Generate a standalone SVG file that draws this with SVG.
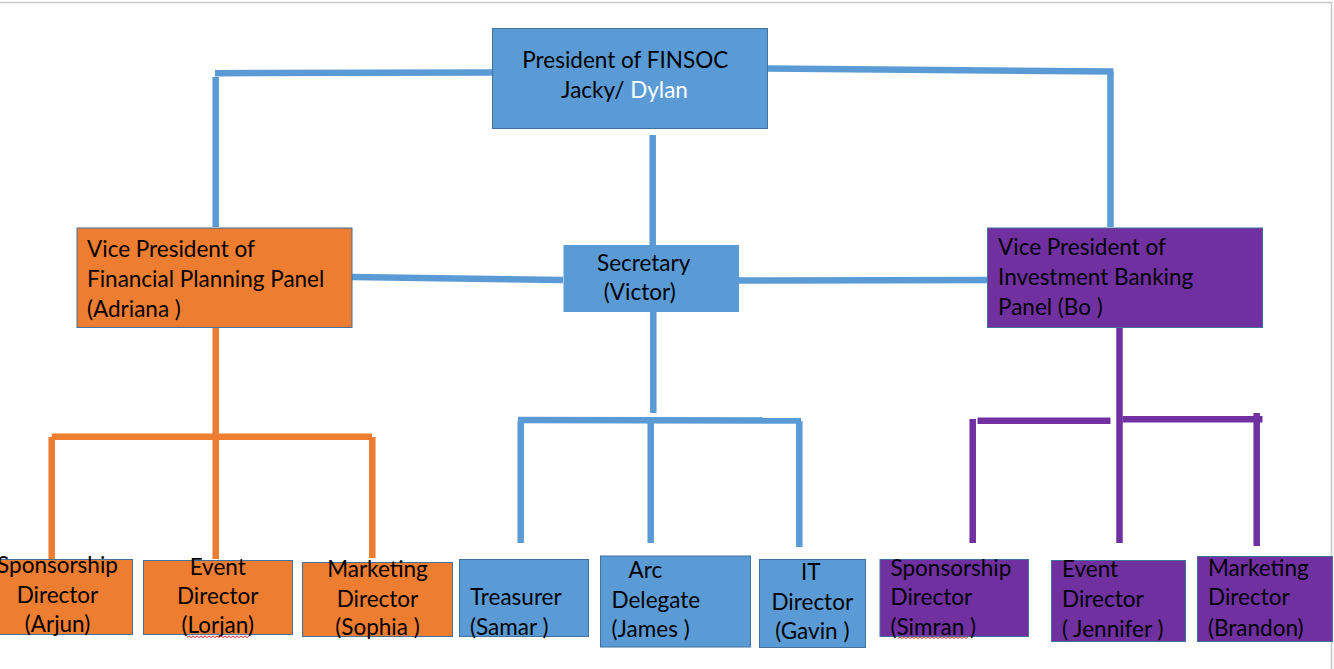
<svg xmlns="http://www.w3.org/2000/svg" width="1334" height="669" viewBox="0 0 1334 669">
<style>
text{font-family:Lato,"Liberation Sans",sans-serif;font-size:22.5px;fill:#000}
.c{text-anchor:middle}
.blue{fill:#5B9BD5;stroke:#41719C;stroke-width:1}
.org{fill:#ED7D31;stroke:#41719C;stroke-width:1}
.pur{fill:#7030A0;stroke:#41719C;stroke-width:1}
.lb{stroke:#5B9BD5;stroke-width:6.5;fill:none}
.lo{stroke:#ED7D31;stroke-width:6.5;fill:none}
.lp{stroke:#7030A0;stroke-width:6.5;fill:none}
.sq{stroke:#E03030;stroke-width:1;fill:none}
</style>
<rect width="1334" height="669" fill="#fff"/>
<path d="M0 2.5H1331.5V669" stroke="#C8C8C8" stroke-width="1.5" fill="none"/>
<g id="connectors">
<path class="lb" d="M492 72.5L215 73.2"/>
<path class="lb" d="M215.7 77V227"/>
<path class="lb" d="M768 68.5L1113.5 71.5"/>
<path class="lb" d="M1110.5 72V227"/>
<path class="lb" d="M652.7 135V245"/>
<path class="lb" d="M352 277L563 280"/>
<path class="lb" d="M739 280.5L1001.5 280"/>
<path class="lb" d="M653.3 312V413"/>
<path class="lb" d="M518 420L801 420.5"/>
<path class="lb" d="M520.7 421V543"/>
<path class="lb" d="M650.7 421V543"/>
<path class="lb" d="M799.3 421V547"/>
<path class="lo" d="M215.7 327V559"/>
<path class="lo" d="M51.7 436.7H372"/>
<path class="lo" d="M51.7 437V559"/>
<path class="lo" d="M372.3 437V558"/>
<path class="lp" d="M1119.5 327V543"/>
<path class="lp" d="M977.5 420.7H1110.5"/>
<path class="lp" d="M1122.5 419.3H1262.5"/>
<path class="lp" d="M972.7 419V543"/>
<path class="lp" d="M1256.7 413V546"/>
</g>
<g id="president">
<rect class="blue" x="492.5" y="28.5" width="275" height="100"/>
<text class="c" x="625.3" y="68">President of FINSOC</text>
<text class="c" x="624.5" y="98">Jacky/ <tspan fill="#fff">Dylan</tspan></text>
</g>
<g id="vp-fp">
<rect class="org" x="77" y="228" width="275" height="99.5"/>
<text x="87" y="257">Vice President of</text>
<text x="87" y="287">Financial Planning Panel</text>
<text x="87" y="317">(Adriana )</text>
</g>
<g id="secretary">
<rect x="563.5" y="245" width="175.5" height="67" fill="#5B9BD5"/>
<text class="c" x="643.7" y="270.5">Secretary</text>
<text class="c" x="639.7" y="300">(Victor)</text>
</g>
<g id="vp-ib">
<rect class="pur" x="987.5" y="228" width="275" height="99.5"/>
<text x="998" y="255">Vice President of</text>
<text x="998" y="285">Investment Banking</text>
<text x="998" y="315">Panel (Bo )</text>
</g>
<g id="fp-sponsorship">
<rect class="org" x="-18" y="559.5" width="150.5" height="75"/>
<text class="c" x="57.5" y="573">Sponsorship</text>
<text class="c" x="57.5" y="603">Director</text>
<text class="c" x="57.5" y="632">(Arjun)</text>
</g>
<g id="fp-event">
<rect class="org" x="143.5" y="560.5" width="149" height="74"/>
<text class="c" x="217.7" y="575">Event</text>
<text class="c" x="217.7" y="604">Director</text>
<text class="c" x="217.7" y="633">(Lorjan)</text>
<path class="sq" d="M187 637.5l2 -1.5l2 1.5l2 -1.5l2 1.5l2 -1.5l2 1.5l2 -1.5l2 1.5l2 -1.5l2 1.5l2 -1.5l2 1.5l2 -1.5l2 1.5l2 -1.5l2 1.5l2 -1.5l2 1.5l2 -1.5l2 1.5l2 -1.5l2 1.5l2 -1.5l2 1.5l2 -1.5l2 1.5l2 -1.5l2 1.5l2 -1.5l2 1.5l2 -1.5"/>
</g>
<g id="fp-marketing">
<rect class="org" x="302.5" y="562.5" width="150" height="74"/>
<text class="c" x="377.5" y="577">Marketing</text>
<text class="c" x="377.5" y="607">Director</text>
<text class="c" x="377.5" y="635">(Sophia )</text>
</g>
<g id="treasurer">
<rect class="blue" x="459.5" y="559.5" width="129" height="77"/>
<text x="470" y="605">Treasurer</text>
<text x="470" y="635">(Samar )</text>
</g>
<g id="arc-delegate">
<rect class="blue" x="600.5" y="556" width="150" height="91"/>
<text x="628.5" y="578">Arc</text>
<text x="611.5" y="608">Delegate</text>
<text x="611.5" y="637">(James )</text>
</g>
<g id="it-director">
<rect class="blue" x="759.5" y="559.5" width="106" height="88"/>
<text class="c" x="810.7" y="580">IT</text>
<text class="c" x="812.3" y="610">Director</text>
<text class="c" x="812.3" y="639">(Gavin )</text>
</g>
<g id="ib-sponsorship">
<rect class="pur" x="880" y="559.5" width="148.5" height="77"/>
<text x="890.5" y="576">Sponsorship</text>
<text x="890.5" y="605">Director</text>
<text x="890.5" y="635">(Simran )</text>
<path class="sq" d="M898 638.5l2 -1.5l2 1.5l2 -1.5l2 1.5l2 -1.5l2 1.5l2 -1.5l2 1.5l2 -1.5l2 1.5l2 -1.5l2 1.5l2 -1.5l2 1.5l2 -1.5l2 1.5l2 -1.5l2 1.5l2 -1.5l2 1.5l2 -1.5l2 1.5l2 -1.5l2 1.5l2 -1.5l2 1.5l2 -1.5l2 1.5l2 -1.5l2 1.5l2 -1.5l2 1.5l2 -1.5l2 1.5l2 -1.5"/>
</g>
<g id="ib-event">
<rect class="pur" x="1051.5" y="560.5" width="134" height="81"/>
<text x="1062" y="577">Event</text>
<text x="1062" y="607">Director</text>
<text x="1062" y="637">( Jennifer )</text>
</g>
<g id="ib-marketing">
<rect class="pur" x="1197.5" y="556.5" width="135" height="85"/>
<text x="1208" y="576">Marketing</text>
<text x="1208" y="605">Director</text>
<text x="1208" y="636">(Brandon)</text>
</g>
</svg>
